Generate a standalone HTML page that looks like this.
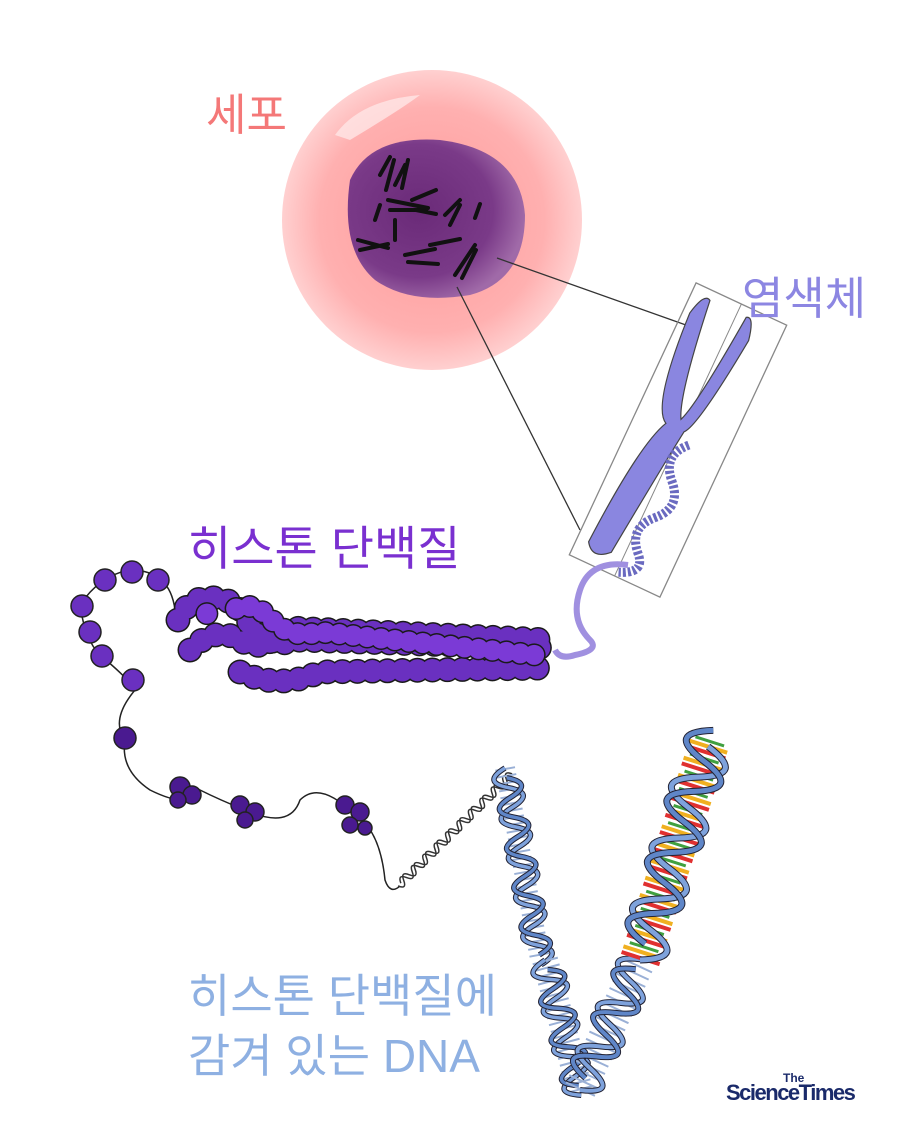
<!DOCTYPE html>
<html><head><meta charset="utf-8"><style>
body{margin:0;background:#fff;}
svg{display:block}
text{font-family:"Liberation Sans","Noto Sans CJK KR",sans-serif}
</style></head><body>
<svg width="901" height="1131" viewBox="0 0 901 1131" xmlns="http://www.w3.org/2000/svg">
<defs>
<radialGradient id="cell" cx="0.5" cy="0.5" r="0.5">
<stop offset="0" stop-color="#ff9a9a"/><stop offset="0.75" stop-color="#ffb0b0"/><stop offset="1" stop-color="#ffd0d0"/>
</radialGradient>
<radialGradient id="nuc" cx="0.4" cy="0.45" r="0.6">
<stop offset="0" stop-color="#6a2a78"/><stop offset="0.7" stop-color="#7a3a88"/><stop offset="1" stop-color="#a06aa8"/>
</radialGradient>
</defs>
<circle cx="432" cy="220" r="150" fill="url(#cell)"/>
<path d="M335 135 Q360 100 420 95 Q400 110 350 140 Z" fill="#ffe6e6" opacity="0.8"/>
<path d="M350 180 Q370 135 440 140 Q520 150 525 215 Q525 280 470 295 Q410 305 375 280 Q340 250 350 180 Z" fill="url(#nuc)"/>
<g stroke="#111" stroke-width="4" stroke-linecap="round">
<path d="M380 175 l10 -18 M386 190 l8 -30"/><path d="M395 185 l10 -20 M402 188 l6 -28"/>
<path d="M388 200 l40 8 M390 210 l36 0"/><path d="M412 200 l24 -10 M416 210 l20 4"/>
<path d="M375 220 l5 -15"/><path d="M358 240 l30 8 M360 250 l28 -6"/>
<path d="M395 240 l0 -20"/><path d="M405 255 l30 -6 M408 262 l30 2"/>
<path d="M430 245 l30 -6"/><path d="M445 215 l15 -15 M450 225 l10 -20"/>
<path d="M475 218 l5 -14"/><path d="M455 275 l20 -30 M462 278 l14 -28"/>
</g>
<line x1="497" y1="258" x2="700" y2="330" stroke="#333" stroke-width="1.3"/>
<line x1="457" y1="287" x2="580" y2="530" stroke="#333" stroke-width="1.3"/>
<g transform="rotate(25 678 440)">
<rect x="628" y="290" width="100" height="300" fill="none" stroke="#888" stroke-width="1.3"/>
<line x1="678" y1="290" x2="678" y2="590" stroke="#888" stroke-width="1"/>
<path d="M648 300 Q640 295 635 320 Q640 420 660 430 Q645 460 640 570 Q650 585 665 570 Q675 470 680 430 Q690 420 700 320 Q695 295 688 300 Q680 400 672 420 Q660 400 648 300 Z" fill="#8a86e0" stroke="#444" stroke-width="1.2"/>
<path d="M690 440 q-20 20 0 40 q20 20 0 40 q-20 20 0 40 q15 15 -10 25" fill="none" stroke="#6a6ac0" stroke-width="9" stroke-dasharray="3 2"/>
</g>
<text x="206" y="130" font-size="44" fill="#f47878">세포</text>
<text x="742" y="314" font-size="45" fill="#8c86e2">염색체</text>
<text x="188" y="565" font-size="47" fill="#7a30d0">히스톤 단백질</text>
<text x="188" y="1012" font-size="46" fill="#8eb0e2">히스톤 단백질에</text>
<text x="188" y="1072" font-size="46" fill="#8eb0e2">감겨 있는 DNA</text>
<path d="M628 565 Q590 560 580 590 Q570 620 590 640 Q600 650 575 655 Q560 660 555 650" fill="none" stroke="#a090e0" stroke-width="6"/>
<path d="M175 610 Q170 570 130 570 Q100 575 80 605 Q85 640 100 655 Q130 680 135 690 Q110 720 125 740 Q120 770 150 790 Q190 810 200 790 Q220 800 245 810 Q290 830 300 800 Q320 780 355 815 Q380 830 385 880 Q390 895 400 886" fill="none" stroke="#222" stroke-width="1.5"/>
<g fill="#6a30c0" stroke="#222" stroke-width="1.5">
<circle cx="105" cy="580" r="11"/><circle cx="132" cy="572" r="11"/><circle cx="158" cy="580" r="11"/>
<circle cx="82" cy="606" r="11"/><circle cx="90" cy="632" r="11"/><circle cx="102" cy="656" r="11"/><circle cx="133" cy="680" r="11"/>
<g fill="#4a1a90"><circle cx="125" cy="738" r="11"/><circle cx="180" cy="787" r="10"/><circle cx="192" cy="795" r="9"/><circle cx="178" cy="800" r="8"/>
<circle cx="240" cy="805" r="9"/><circle cx="255" cy="812" r="9"/><circle cx="245" cy="820" r="8"/>
<circle cx="345" cy="805" r="9"/><circle cx="360" cy="812" r="9"/><circle cx="350" cy="825" r="8"/><circle cx="365" cy="828" r="7"/></g>
</g>
<g fill="none" stroke-linecap="round">
<g stroke="#1a1a1a" stroke-width="25" stroke-dasharray="0 15">
<path d="M240 672 Q280 690 320 672 L540 668"/>
<path d="M178 620 Q190 595 215 598 Q240 600 250 625 Q262 650 300 640 L550 648"/>
<path d="M190 650 Q215 625 240 640 Q262 655 290 628 L550 640"/>
</g>
<g stroke="#6a30c0" stroke-width="22" stroke-dasharray="0 15">
<path d="M240 672 Q280 690 320 672 L540 668"/>
<path d="M178 620 Q190 595 215 598 Q240 600 250 625 Q262 650 300 640 L550 648"/>
<path d="M190 650 Q215 625 240 640 Q262 655 290 628 L550 640"/>
</g>
<g stroke="#1a1a1a" stroke-width="23" stroke-dasharray="0 14" stroke-dashoffset="7">
<path d="M230 612 Q250 598 270 618 Q290 640 320 632 L545 656"/>
<path d="M200 615 L215 612"/>
</g>
<g stroke="#7b3ad6" stroke-width="20" stroke-dasharray="0 14" stroke-dashoffset="7">
<path d="M230 612 Q250 598 270 618 Q290 640 320 632 L545 656"/>
<path d="M200 615 L215 612"/>
</g>
</g>
<g fill="none">
<g transform="translate(398 886) rotate(-44.5)">
<path d="M0 0 q4 9 8 0 t8 0 t8 0 t8 0 t8 0 t8 0 t8 0 t8 0 t8 0 t8 0 t8 0 t8 0 t8 0 t8 0 t8 0 t8 0 t8 0 t8 0 t8 0 t8 0" stroke="#333" stroke-width="1.5"/>
<path d="M4 0 q4 -9 8 0 t8 0 t8 0 t8 0 t8 0 t8 0 t8 0 t8 0 t8 0 t8 0 t8 0 t8 0 t8 0 t8 0 t8 0 t8 0 t8 0 t8 0 t8 0" stroke="#333" stroke-width="1.5"/>
</g>
<g transform="translate(505 768) rotate(79.6)">
<line x1="0" y1="0" x2="195" y2="0" stroke="#9ab0d6" stroke-width="20" stroke-dasharray="2 5"/>
<path d="M0 0 q10 26 20 0 t20 0 t20 0 t20 0 t20 0 t20 0 t20 0 t20 0 t20 0 t20 0" stroke="#223" stroke-width="5.5"/>
<path d="M0 0 q10 26 20 0 t20 0 t20 0 t20 0 t20 0 t20 0 t20 0 t20 0 t20 0 t20 0" stroke="#7ea2dc" stroke-width="3.5"/>
<path d="M10 0 q10 -26 20 0 t20 0 t20 0 t20 0 t20 0 t20 0 t20 0 t20 0 t20 0" stroke="#223" stroke-width="5.5"/>
<path d="M10 0 q10 -26 20 0 t20 0 t20 0 t20 0 t20 0 t20 0 t20 0 t20 0 t20 0" stroke="#5f86c8" stroke-width="3.5"/>
</g>
<g transform="translate(545 960) rotate(75)">
<line x1="0" y1="0" x2="135" y2="0" stroke="#9ab0d6" stroke-width="26" stroke-dasharray="2 5"/>
<path d="M0 0 q10 30 20 0 t20 0 t20 0 t20 0 t20 0 t20 0 t20 0" stroke="#223" stroke-width="5.5"/>
<path d="M0 0 q10 30 20 0 t20 0 t20 0 t20 0 t20 0 t20 0 t20 0" stroke="#7ea2dc" stroke-width="3.5"/>
<path d="M10 0 q10 -30 20 0 t20 0 t20 0 t20 0 t20 0 t20 0" stroke="#223" stroke-width="5.5"/>
<path d="M10 0 q10 -30 20 0 t20 0 t20 0 t20 0 t20 0 t20 0" stroke="#5f86c8" stroke-width="3.5"/>
</g>
<g transform="translate(580 1090) rotate(-65.2)">
<line x1="0" y1="0" x2="143" y2="0" stroke="#9ab0d6" stroke-width="32" stroke-dasharray="2 6"/>
<path d="M0 0 q12 38 24 0 t24 0 t24 0 t24 0 t24 0 t24 0" stroke="#223" stroke-width="6"/>
<path d="M0 0 q12 38 24 0 t24 0 t24 0 t24 0 t24 0 t24 0" stroke="#7ea2dc" stroke-width="4"/>
<path d="M13 0 q12 -38 24 0 t24 0 t24 0 t24 0 t24 0" stroke="#223" stroke-width="6"/>
<path d="M13 0 q12 -38 24 0 t24 0 t24 0 t24 0 t24 0" stroke="#5f86c8" stroke-width="4"/>
</g>
<g transform="translate(640 960) rotate(-72.3)">
<line x1="0" y1="0" x2="231" y2="0" stroke="#e03030" stroke-width="40" stroke-dasharray="4 14"/>
<line x1="0" y1="0" x2="231" y2="0" stroke="#f0b020" stroke-width="40" stroke-dasharray="4 14" stroke-dashoffset="-6"/>
<line x1="0" y1="0" x2="231" y2="0" stroke="#40a040" stroke-width="30" stroke-dasharray="3 15" stroke-dashoffset="-12"/>
<path d="M0 0 q16 46 32 0 t32 0 t32 0 t32 0 t32 0 t32 0 t32 0" stroke="#223" stroke-width="7"/>
<path d="M0 0 q16 46 32 0 t32 0 t32 0 t32 0 t32 0 t32 0 t32 0" stroke="#7ea2dc" stroke-width="5"/>
<path d="M17 0 q16 -46 32 0 t32 0 t32 0 t32 0 t32 0 t32 0 t32 0" stroke="#223" stroke-width="7"/>
<path d="M17 0 q16 -46 32 0 t32 0 t32 0 t32 0 t32 0 t32 0 t32 0" stroke="#5f86c8" stroke-width="5"/>
</g>
</g>
<text x="783" y="1082" font-size="12" font-weight="bold" fill="#1a2a6a">The</text>
<text x="726" y="1100" font-size="22" font-weight="bold" fill="#1a2a6a" letter-spacing="-1.5">ScienceTimes</text>
</svg>
</body></html>
